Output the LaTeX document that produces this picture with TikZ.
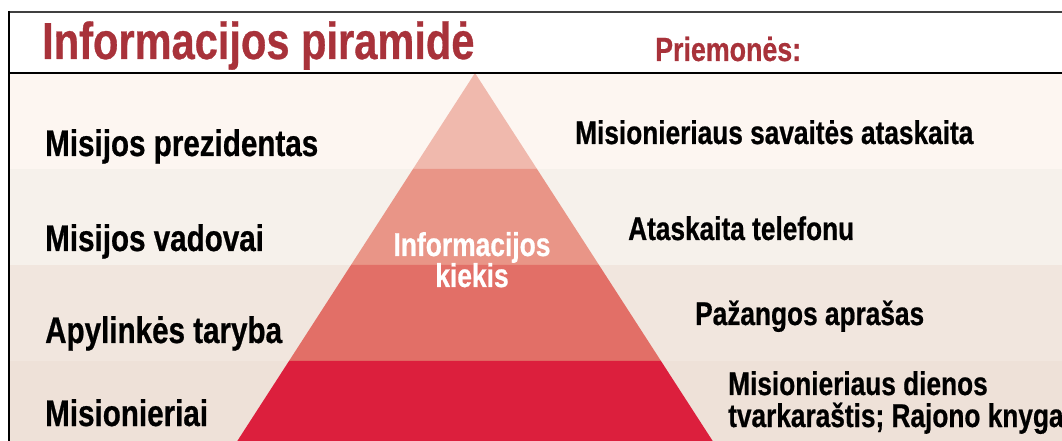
\documentclass[tikz,border=0pt]{standalone}
\usepackage{fontspec}
\newfontfamily\cond{Liberation Sans}[FakeStretch=0.8,FakeBold=0.6]
\definecolor{titlered}{HTML}{A8323A}
\definecolor{bgA}{HTML}{FDF6F1}
\definecolor{bgB}{HTML}{F6F1EB}
\definecolor{bgC}{HTML}{F1E6DE}
\definecolor{bgD}{HTML}{EEE1D8}
\definecolor{pyA}{HTML}{F0B9AD}
\definecolor{pyB}{HTML}{E99587}
\definecolor{pyC}{HTML}{E26F67}
\definecolor{pyD}{HTML}{DC1F3D}
\tikzset{
  lbl/.style={anchor=base west, inner sep=0pt, text=black, font=\cond\bfseries\fontsize{37bp}{40bp}\selectfont},
  rlbl/.style={anchor=base west, inner sep=0pt, text=black, align=left, font=\cond\bfseries\fontsize{32.8bp}{32bp}\selectfont},
  ttl/.style={anchor=base west, inner sep=0pt, text=titlered},
  frame/.style={line width=1.5bp, black}
}
\begin{document}
\begin{tikzpicture}[x=1bp,y=-1bp]
\useasboundingbox (0,0) rectangle (1062,441);
\fill[white] (0,0) rectangle (1062,441);
% background bands
\fill[bgA] (9,73) rectangle (1062,169);
\fill[bgB] (9,169) rectangle (1062,265);
\fill[bgC] (9,265) rectangle (1062,361);
\fill[bgD] (9,361) rectangle (1062,441);
% pyramid layers (apex 475,73; half width = 0.6458*(y-73))
\fill[pyA] (475,73) -- (537,169) -- (413,169) -- cycle;
\fill[pyB] (413,169) -- (537,169) -- (599,265) -- (351,265) -- cycle;
\fill[pyC] (351,265) -- (599,265) -- (661,361) -- (289,361) -- cycle;
\fill[pyD] (289,361) -- (661,361) -- (712.7,441) -- (237.3,441) -- cycle;
% frame lines
\draw[line width=2bp, black!75] (9,12) -- (1062,12);
\draw[frame] (9,11) -- (9,441);
\draw[frame] (9,73) -- (1062,73);
% titles
\node[ttl, font=\cond\bfseries\fontsize{52bp}{56bp}\selectfont] (title) at (42,59) {Informacijos piramidė};
\node[ttl, font=\cond\bfseries\fontsize{33.5bp}{36bp}\selectfont] (tools) at (655,61) {Priemonės:};
% left labels
\node[lbl] (l1) at (45,156) {Misijos prezidentas};
\node[lbl] (l2) at (45,251) {Misijos vadovai};
\node[lbl] (l3) at (45,343) {Apylinkės taryba};
\node[lbl] (l4) at (45,426) {Misionieriai};
% right labels
\node[rlbl] (r1) at (575,144) {Misionieriaus savaitės ataskaita};
\node[rlbl] (r2) at (628,240) {Ataskaita telefonu};
\node[rlbl] (r3) at (695,325) {Pažangos aprašas};
\node[rlbl] (r4) at (728,427) {Misionieriaus dienos\\tvarkaraštis; Rajono knyga};
% centre text
\node[anchor=base, inner sep=0pt, text=white, align=center, font=\cond\bfseries\fontsize{33bp}{31bp}\selectfont] (amt) at (472,287) {Informacijos\\kiekis};
\end{tikzpicture}
\end{document}
